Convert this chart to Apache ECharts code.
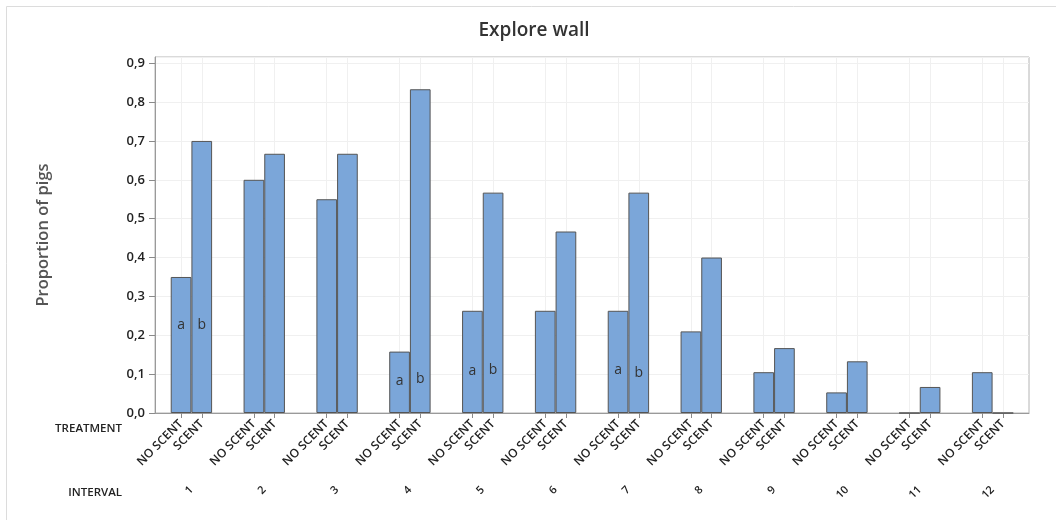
<!DOCTYPE html>
<html>
<head>
<meta charset="utf-8">
<script src="https://cdn.jsdelivr.net/npm/echarts@6/dist/echarts.min.js"></script>
<style>
  html, body { margin: 0; padding: 0; background: #ffffff; }
  #chart { width: 1056px; height: 520px; }
</style>
</head>
<body>
<div id="chart"></div>
<script>
// Proportion of pigs exploring the wall, per interval and treatment
const intervals = ['1', '2', '3', '4', '5', '6', '7', '8', '9', '10', '11', '12'];
const treatments = ['NO SCENT', 'SCENT'];
const noScent = [0.35, 0.60, 0.55, 0.158, 0.263, 0.263, 0.263, 0.21, 0.105, 0.053, 0, 0.105];
const scent   = [0.70, 0.667, 0.667, 0.833, 0.567, 0.467, 0.567, 0.40, 0.167, 0.133, 0.067, 0];
// significance letters within an interval
const lettersNoScent = ['a', '', '', 'a', 'a', '', 'a', '', '', '', '', ''];
const lettersScent   = ['b', '', '', 'b', 'b', '', 'b', '', '', '', '', ''];

const FONT = '"Open Sans", "Noto Sans", sans-serif';
const BAR_FILL = '#7ba6d9';
const BAR_EDGE = '#555555';
const GRID_RECT = { left: 155, right: 27, top: 57, bottom: 107 };

// lift of the letter above the bar base (px), per interval index
const letterLift = { 0: [81, 81], 3: [25, 27], 4: [35, 36], 6: [36, 33] };

function barData(values, letters, side) {
  return values.map((v, i) => {
    const item = { value: v };
    if (letters[i]) {
      item.label = {
        show: true,
        formatter: letters[i],
        position: 'insideBottom',
        distance: (letterLift[i] || [20, 20])[side],
        fontSize: 14,
        fontFamily: FONT,
        color: '#333'
      };
    }
    return item;
  });
}

// fine ordinal axis: 14 half-slots per interval, treatments sit at slots 5 and 9
const SLOTS = 14;
const treatmentSlots = { 5: treatments[0], 9: treatments[1] };
const fineCategories = [];
for (let i = 0; i <= intervals.length * SLOTS; i++) {
  fineCategories.push(treatmentSlots[i % SLOTS] || '');
}
const isTreatmentSlot = (idx) => fineCategories[idx] !== '';

const chart = echarts.init(document.getElementById('chart'), null, { renderer: 'canvas' });

chart.setOption({
  animation: false,
  backgroundColor: '#ffffff',
  grid: [
    Object.assign({ show: true, borderColor: '#b4b4b4', borderWidth: 1, backgroundColor: 'transparent', outerBoundsMode: 'none' }, GRID_RECT),
    Object.assign({ show: false, outerBoundsMode: 'none' }, GRID_RECT)
  ],
  xAxis: [
    {
      type: 'category',
      gridIndex: 0,
      data: intervals,
      axisLine: { show: true, lineStyle: { color: '#9a9a9a', width: 1 } },
      axisTick: { show: false },
      splitLine: { show: false },
      axisLabel: {
        rotate: 45,
        margin: 75,
        fontSize: 11,
        fontWeight: 600,
        fontFamily: FONT,
        color: '#222'
      }
    },
    {
      type: 'category',
      gridIndex: 1,
      boundaryGap: false,
      data: fineCategories,
      axisLine: { show: false },
      axisTick: {
        show: true,
        length: 5,
        interval: (idx) => isTreatmentSlot(idx),
        lineStyle: { color: '#8a8a8a' }
      },
      splitLine: {
        show: true,
        interval: (idx) => isTreatmentSlot(idx),
        lineStyle: { color: '#f0f0f0', width: 1 }
      },
      axisLabel: {
        interval: (idx) => isTreatmentSlot(idx),
        rotate: 45,
        margin: 9,
        fontSize: 12,
        fontWeight: 600,
        fontFamily: FONT,
        color: '#222'
      }
    }
  ],
  yAxis: [
    {
      type: 'value',
      gridIndex: 0,
      min: 0,
      max: 0.916,
      interval: 0.1,
      name: 'Proportion of pigs',
      nameLocation: 'middle',
      nameGap: 103,
      nameRotate: 90,
      nameTextStyle: { fontSize: 16.5, fontWeight: 600, fontFamily: FONT, color: '#555' },
      axisLine: { show: true, lineStyle: { color: '#9a9a9a' } },
      axisTick: { show: true, length: 6, lineStyle: { color: '#8a8a8a' } },
      splitLine: { show: true, lineStyle: { color: '#f0f0f0', width: 1 } },
      axisLabel: {
        margin: 10,
        fontSize: 13,
        fontWeight: 600,
        fontFamily: FONT,
        color: '#222',
        showMaxLabel: false,
        formatter: (v) => {
          const r = Math.round(v * 10);
          if (Math.abs(v * 10 - r) > 1e-6) return '';
          return (r / 10).toFixed(1).replace('.', ',');
        }
      }
    },
    {
      type: 'value',
      gridIndex: 1,
      min: 0,
      max: 0.916,
      show: false
    }
  ],
  series: [
    {
      name: treatments[0],
      type: 'bar',
      xAxisIndex: 0,
      yAxisIndex: 0,
      barWidth: '28.4%',
      barGap: '0%',
      itemStyle: { color: BAR_FILL, borderColor: BAR_EDGE, borderWidth: 1 },
      data: barData(noScent, lettersNoScent, 0)
    },
    {
      name: treatments[1],
      type: 'bar',
      xAxisIndex: 0,
      yAxisIndex: 0,
      barWidth: '28.4%',
      barGap: '0%',
      itemStyle: { color: BAR_FILL, borderColor: BAR_EDGE, borderWidth: 1 },
      data: barData(scent, lettersScent, 1)
    }
  ],
  graphic: [
    {
      type: 'polyline',
      silent: true,
      shape: { points: [[6.5, 520], [6.5, 6.5], [1056, 6.5]] },
      style: { stroke: '#dcdcdc', lineWidth: 1, fill: null }
    },
    {
      type: 'text',
      x: 534, y: 31,
      style: {
        text: 'Explore wall',
        fontSize: 19,
        fontWeight: 600,
        fontFamily: FONT,
        fill: '#333',
        textAlign: 'center',
        textVerticalAlign: 'middle'
      }
    },
    {
      type: 'text',
      x: 122, y: 429,
      style: {
        text: 'TREATMENT',
        fontSize: 11.5,
        fontWeight: 600,
        fontFamily: FONT,
        fill: '#222',
        textAlign: 'right',
        textVerticalAlign: 'middle'
      }
    },
    {
      type: 'text',
      x: 122, y: 493,
      style: {
        text: 'INTERVAL',
        fontSize: 11.5,
        fontWeight: 600,
        fontFamily: FONT,
        fill: '#222',
        textAlign: 'right',
        textVerticalAlign: 'middle'
      }
    }
  ]
});
</script>
</body>
</html>
